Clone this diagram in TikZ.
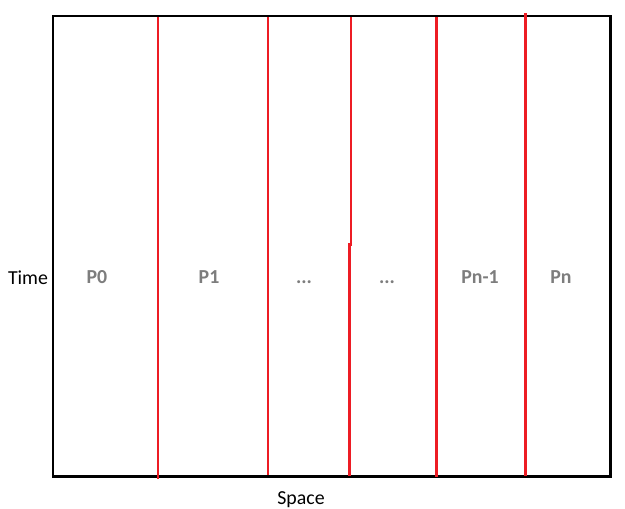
\documentclass[tikz,border=0pt]{standalone}
\usepackage{fontspec}
\setmainfont{Carlito}
\usepackage{tikz}
\definecolor{cutred}{RGB}{237,28,36}
\definecolor{labgray}{RGB}{125,125,125}
\tikzset{lbl/.style={draw=none, fill=none, inner sep=0pt, anchor=base,
  font=\fontsize{11.3}{13}\selectfont},
  part/.style={lbl, text=labgray, font=\fontsize{11.3}{13}\selectfont\bfseries},
  cut/.style={draw=cutred, line width=1.7pt}}

\begin{document}
\begin{tikzpicture}[x=0.02cm, y=-0.02cm]
  \useasboundingbox (0, 0) rectangle (625, 508);
  \draw[line width=1.7pt] (53, 16) rectangle (610, 476);
  \draw[cut] (158, 17) -- (158, 479);
  \draw[cut] (268, 17) -- (268, 475);
  \draw[cut] (351, 17) -- (351, 244) -- (349.5, 244) -- (349.5, 476);
  \draw[cut] (436.5, 17) -- (436.5, 477);
  \draw[cut] (525, 13) -- (525, 476);
  \node[part] (p0) at (97, 283)  {P0};
  \node[part] (p1) at (209, 283) {P1};
  \node[part] (d1) at (304, 283) {...};
  \node[part] (d2) at (387, 283) {...};
  \node[part] (pm) at (480, 283) {Pn-1};
  \node[part] (pn) at (561, 283) {Pn};
  \node[lbl] (time) at (28, 284)  {Time};
  \node[lbl] (space) at (301, 504) {Space};
\end{tikzpicture}
\end{document}
